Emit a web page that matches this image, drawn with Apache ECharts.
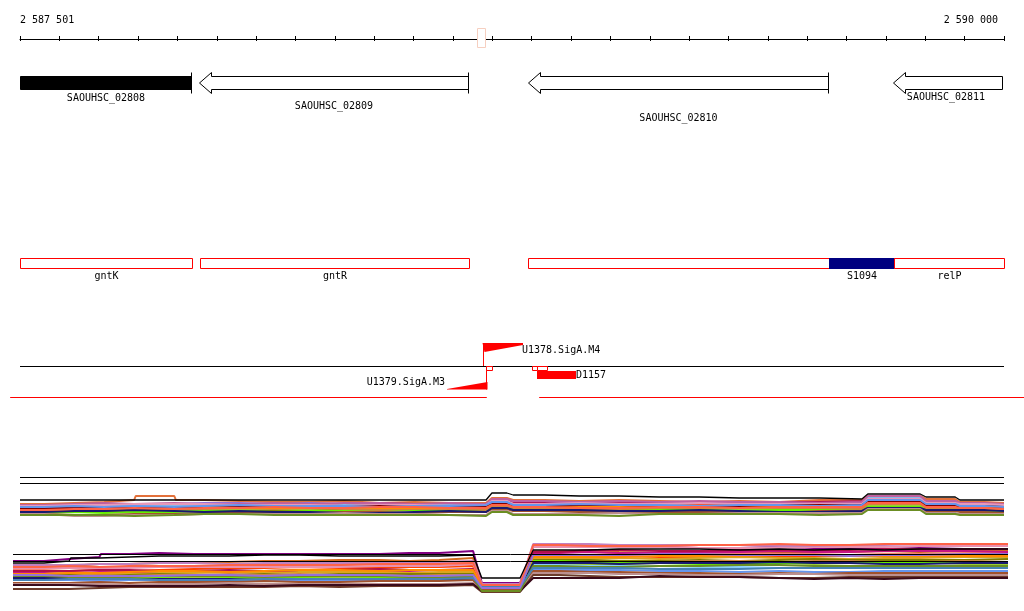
<!DOCTYPE html>
<html><head><meta charset="utf-8">
<script src="https://cdn.jsdelivr.net/npm/echarts@6/dist/echarts.min.js"></script>
<style>html,body{margin:0;padding:0;background:#fff}#c{width:1024px;height:611px}</style>
</head><body><div id="c"></div>
<script>
// ---------------- data ----------------
const VIEW_MIN = 2587500, VIEW_MAX = 2590000, TICK_STEP = 100;
const rulerLabels = ['2 587 501', '2 590 000'];
const cursorRange = [2588662, 2588682];

const geneNames  = ['SAOUHSC_02808', 'SAOUHSC_02809', 'SAOUHSC_02810', 'SAOUHSC_02811'];
const geneStart  = [2587100, 2587956, 2588791, 2589717];
const geneEnd    = [2587935, 2588638, 2589553, 2590600];
const geneStrand = ['-', '-', '-', '-'];
const geneSelected = [true, false, false, false];

const operonNames = ['gntK', 'gntR', '', 'S1094', 'relP'];
const operonStart = [2587300, 2587957, 2588791, 2589555, 2589721];
const operonEnd   = [2587936, 2588640, 2589555, 2589721, 2590300];
const operonKind  = ['operon', 'operon', 'operon', 'sRNA', 'operon'];

const motifNames = ['U1378.SigA.M4', 'U1379.SigA.M3'];
const motifPos   = [2588676, 2588685];
const motifEnd   = [2588777, 2588586];

const tssStart = [2588683, 2588801, 2588814];
const tssEnd   = [2588700, 2588814, 2588838];

const regionNames = ['D1157'];
const regionStart = [2588814];
const regionEnd   = [2588913];

const coverageStart = [2587475, 2588819];
const coverageEnd   = [2588686, 2590051];

// expression panel 1
const p1SegStart = [2587500,2587564,2587640,2587716,2587792,2587894,2587970,2588059,2588148,2588237,2588326,2588415,2588504,2588592,2588699,2588753,2588834,2588923,2589024,2589126,2589228,2589329,2589431,2589533,2589654,2589802,2589888,2589952];
const p1SegEnd   = [2587564,2587640,2587716,2587792,2587894,2587970,2588059,2588148,2588237,2588326,2588415,2588504,2588592,2588684,2588737,2588834,2588923,2589024,2589126,2589228,2589329,2589431,2589533,2589639,2589787,2589876,2589952,2590000];
const p1RefLevels = [42, 36];
const p1Values = [
  [20,20,20,20,20,20,20,20,20,20,20,20,20,20,27,25,24,24,23,23,22,22,22,21,26,23,20,20],
  [16,17,18,20,24,20,19,18,18,19,17,18,17,17,22,20,19,20,19,18,19,18,20,20,24,21,18,17],
  [15,14,16,15,16,17,17,16,17,16,16,15,16,15,20,18,18,17,16,17,17,18,17,17,22,19,16,15],
  [12,13,12,14,14,15,16,16,15,16,17,16,15,16,19,17,16,17,17,16,17,18,18,19,21,18,15,14],
  [13,12,14,13,15,15,14,15,16,14,15,14,14,13,18,16,15,16,15,15,16,15,16,15,20,17,14,14],
  [15,15,14,15,15,14,13,14,14,15,14,15,15,14,19,15,14,15,16,15,14,14,15,14,23,16,15,15],
  [11,12,13,12,12,13,14,13,14,13,13,12,13,13,17,14,15,14,14,15,15,16,15,16,19,15,13,12],
  [10,10,11,11,12,11,12,12,13,12,12,13,12,12,16,13,13,13,12,13,13,13,14,13,18,14,12,12],
  [8,8,9,8,9,10,10,9,10,10,11,10,11,11,14,12,11,10,11,11,12,11,12,12,16,12,11,10],
  [9,9,10,9,10,10,11,11,11,12,11,11,10,10,13,11,12,12,11,12,11,11,11,10,15,11,10,9],
  [7,8,7,8,8,9,9,8,9,9,9,10,9,9,12,10,10,9,10,10,9,10,10,11,13,10,9,8],
  [6,5,5,6,6,7,7,8,7,8,8,7,8,8,11,9,8,8,8,8,8,7,9,9,12,9,8,7],
  [9,10,10,11,11,11,12,11,12,11,10,11,11,10,14,12,11,11,12,12,13,12,12,11,16,12,11,10],
  [15,16,17,16,17,16,16,17,16,17,17,16,17,16,21,19,18,19,18,19,18,18,17,18,24,19,17,16],
  [8,9,9,10,9,8,9,8,8,7,7,8,9,8,12,10,10,9,9,10,9,8,8,9,12,10,10,9],
  [6,4,4,5,5,6,6,6,6,7,6,6,5,5,9,6,6,7,6,6,7,7,7,7,11,7,6,6],
  [5,5,5,4,5,6,6,5,5,5,5,5,5,4,8,5,5,4,6,6,6,6,5,6,10,6,5,5],
  [14,15,15,16,16,16,15,15,15,14,15,15,14,15,19,16,17,16,16,17,16,16,16,16,21,17,16,15],
  [11,11,12,12,13,13,12,12,12,13,12,12,12,12,16,14,14,13,13,14,14,14,13,14,17,15,13,11],
  [12,12,12,13,13,12,13,14,13,13,14,13,13,14,17,14,15,15,14,14,14,15,15,15,19,14,14,13],
  [13,14,13,14,13,14,15,14,14,14,13,14,14,15,18,15,16,15,15,14,15,15,14,15,20,16,14,13],
  [10,11,11,12,11,12,12,13,12,12,13,13,12,12,15,13,12,12,13,13,12,13,13,13,17,13,12,11]
];

// expression panel 2
const p2SegStart = [2587500,2587580,2587643,2587719,2587794,2587869,2587957,2588045,2588133,2588221,2588322,2588422,2588498,2588573,2588678,2588807,2588874,2588950,2589025,2589126,2589226,2589327,2589427,2589515,2589603,2589691,2589779,2589892];
const p2SegEnd   = [2587580,2587643,2587719,2587794,2587869,2587957,2588045,2588133,2588221,2588322,2588422,2588498,2588573,2588656,2588774,2588874,2588950,2589025,2589126,2589226,2589327,2589427,2589515,2589603,2589691,2589779,2589892,2590000];
const p2RefLevels = [47, 40];
const p2Values = [
  [41,43,45,48,49,48,48,48,48,48,48,49,49,51,19,55,56,56,55,54,54,55,54,53,53,54,53,53],
  [39,41,44,45,46,46,46,47,47,46,46,46,46,47,24,52,52,53,53,53,52,53,52,53,52,53,53,53],
  [37,36,38,38,39,40,40,41,41,42,42,41,42,44,17,50,51,50,49,50,49,49,50,50,51,50,51,51],
  [33,34,34,35,36,36,36,37,36,37,38,38,39,40,16,51,50,49,48,48,49,48,48,47,48,48,49,49],
  [30,31,32,31,32,33,34,34,35,34,34,35,35,36,15,47,46,46,45,45,46,45,46,46,46,47,46,46],
  [29,28,30,30,30,31,30,31,31,32,31,31,32,32,16,49,50,49,49,50,50,51,50,50,51,51,51,50],
  [28,29,28,28,29,29,30,29,30,30,30,29,30,30,14,44,43,44,43,44,45,44,44,43,44,44,45,45],
  [27,27,26,27,28,27,27,28,27,28,28,28,28,28,13,42,42,41,41,42,41,42,43,42,42,42,42,43],
  [26,26,27,26,27,27,28,27,28,27,27,26,27,27,14,39,40,40,40,41,41,40,41,41,40,40,41,40],
  [25,24,24,25,25,25,26,26,25,26,26,26,26,26,15,37,37,36,36,35,35,34,34,35,35,35,34,35],
  [25,25,25,24,24,24,25,24,25,25,24,25,25,26,13,39,38,38,39,39,39,39,38,39,40,40,38,38],
  [23,24,23,23,24,23,24,24,24,23,24,24,23,24,12,41,40,39,39,38,38,39,39,39,39,39,39,39],
  [24,24,23,22,23,23,23,22,23,23,22,23,23,23,13,39,39,38,39,39,39,40,39,39,38,38,39,39],
  [22,22,21,22,22,22,21,22,22,21,22,23,24,24,14,32,32,32,31,31,30,31,30,30,31,31,31,31],
  [19,19,20,19,20,20,20,21,20,20,21,21,21,22,12,31,30,30,29,29,28,29,28,29,29,29,29,29],
  [18,18,18,17,18,18,19,18,18,18,18,18,18,19,11,29,29,28,28,27,27,28,28,27,27,27,27,27],
  [13,13,14,15,15,15,15,15,16,15,16,16,16,17,10,27,26,25,25,25,25,24,24,25,25,25,25,25],
  [17,17,16,16,16,16,17,16,17,17,17,17,17,18,11,24,24,24,26,25,25,24,23,24,23,24,24,24],
  [31,31,32,32,31,31,32,31,32,32,33,32,32,33,17,50,52,52,51,51,52,52,52,52,53,53,53,53],
  [34,34,34,34,35,35,35,35,35,35,36,36,36,38,18,55,55,55,55,54,54,54,55,55,55,56,56,56],
  [37,37,38,38,39,39,38,39,39,39,39,39,40,41,18,58,58,57,57,57,57,56,56,57,57,58,58,58],
  [28,29,29,30,31,31,30,31,32,32,31,32,32,32,16,45,45,45,46,46,46,47,47,46,46,46,46,46],
  [26,25,25,25,26,26,26,25,26,26,26,25,25,25,11,36,35,35,36,36,37,37,36,36,36,36,36,36],
  [22,23,23,23,22,22,22,23,23,23,23,23,23,24,15,34,34,34,33,33,33,34,34,34,34,34,34,34],
  [35,36,35,36,36,36,37,37,37,37,38,38,38,39,17,57,56,56,56,57,57,58,57,57,58,58,58,58],
  [27,26,26,26,26,27,27,26,27,27,27,26,26,27,14,47,47,47,48,48,47,47,47,46,47,47,48,48]
];

// ---------------- styles / layout ----------------
const p1Colors = ['#000000','#e2703a','#9370db','#b0185a','#fa8072','#87b8e8','#ff4500','#daa520','#808000','#9acd32','#66ee00','#a0522d','#cd853f','#c060a0','#191970','#bc8f8f','#6b8e23','#e899b8','#ff8c00','#800000','#6495ed','#ff6347'];
const p2Colors = ['#800080','#000000','#d2691e','#fa8072','#ff4500','#c71585','#daa520','#808000','#cd853f','#87cefa','#9acd32','#66ee00','#191970','#6495ed','#a0522d','#bc8f8f','#6b3a2a','#3a0a1a','#b0104a','#e890b0','#c080c0','#ff8c00','#6b8e23','#4682b4','#ff6347','#9370db'];
const FONT = '10px "DejaVu Sans Mono", monospace';
const GENE = {bodyTop: 76.5, bodyBot: 89.5, headTop: 72.5, headBot: 93.5, head: 12, labelY: [98, 106, 118, 97]};

function X(api, bp) { return api.coord([bp, 0])[0]; }
function crisp(v) { return Math.round(v) + 0.5; }
function txt(text, x, y, align) {
  return {type: 'text', style: {text: text, x: x, y: y, font: FONT, fill: '#000', align: align || 'center', verticalAlign: 'middle'}};
}

function renderGene(params, api) {
  const i = params.dataIndex;
  const xL = crisp(X(api, VIEW_MIN)), xR = crisp(X(api, VIEW_MAX));
  const s = crisp(X(api, geneStart[i])), e = crisp(X(api, geneEnd[i]));
  const fwd = geneStrand[i] === '+';
  const tip = fwd ? e : s, base = fwd ? s : e;
  const dir = fwd ? -1 : 1;
  const tipIn = tip >= xL && tip <= xR;
  const baseIn = base >= xL && base <= xR;
  const baseC = Math.min(Math.max(base, xL), xR - 2);
  const tipC = Math.min(Math.max(tip, xL), xR);
  let pts;
  if (tipIn) {
    const hb = tip + dir * GENE.head;
    const mid = (GENE.headTop + GENE.headBot) / 2;
    pts = [[tip, mid], [hb, GENE.headTop], [hb, GENE.bodyTop], [baseC, GENE.bodyTop], [baseC, GENE.bodyBot], [hb, GENE.bodyBot], [hb, GENE.headBot]];
  } else {
    pts = [[tipC, GENE.bodyTop], [baseC, GENE.bodyTop], [baseC, GENE.bodyBot], [tipC, GENE.bodyBot]];
  }
  const children = [{type: 'polygon', shape: {points: pts}, style: {fill: geneSelected[i] ? '#000' : '#fff', stroke: '#000', lineWidth: 1}}];
  if (baseIn) children.push({type: 'line', shape: {x1: base, y1: GENE.headTop, x2: base, y2: GENE.headBot}, style: {stroke: '#000', lineWidth: 1}});
  children.push(txt(geneNames[i], (tipC + baseC) / 2 - (baseIn ? 0 : 2), GENE.labelY[i]));
  return {type: 'group', children: children};
}

function renderOperon(params, api) {
  const i = params.dataIndex;
  const xL = crisp(X(api, VIEW_MIN)), xR = crisp(X(api, VIEW_MAX));
  const a = Math.max(crisp(X(api, operonStart[i])), xL), b = Math.min(crisp(X(api, operonEnd[i])), xR);
  const children = [];
  if (operonKind[i] === 'sRNA') {
    children.push({type: 'rect', shape: {x: a - 0.5, y: 258, width: b - a + 1, height: 11}, style: {fill: '#000080'}});
  } else {
    children.push({type: 'rect', shape: {x: a, y: 258.5, width: b - a, height: 10}, style: {fill: '#fff', stroke: '#ff0000', lineWidth: 1}});
  }
  if (operonNames[i]) children.push(txt(operonNames[i], (a + b) / 2, 276));
  return {type: 'group', children: children};
}

function renderBaseline(params, api) {
  const xL = X(api, VIEW_MIN), xR = X(api, VIEW_MAX);
  return {type: 'line', shape: {x1: xL, y1: 366.5, x2: xR, y2: 366.5}, style: {stroke: '#000', lineWidth: 1}};
}

function renderCoverage(params, api) {
  const i = params.dataIndex;
  return {type: 'line', shape: {x1: X(api, coverageStart[i]), y1: 397.5, x2: X(api, coverageEnd[i]), y2: 397.5}, style: {stroke: '#ff0000', lineWidth: 1}};
}

function renderMotif(params, api) {
  const i = params.dataIndex;
  const p = crisp(X(api, motifPos[i])), q = Math.round(X(api, motifEnd[i]));
  const children = [];
  if (q > p) {
    children.push({type: 'polygon', shape: {points: [[p - 1, 343], [q, 343], [q, 345], [p + 1, 352]]}, style: {fill: '#ff0000'}});
    children.push({type: 'line', shape: {x1: p, y1: 343, x2: p, y2: 366}, style: {stroke: '#ff0000', lineWidth: 1}});
    children.push(txt(motifNames[i], q - 1, 350, 'left'));
  } else {
    children.push({type: 'polygon', shape: {points: [[q, 389.5], [p + 1, 389.5], [p + 1, 382], [q, 389]]}, style: {fill: '#ff0000'}});
    children.push({type: 'line', shape: {x1: p, y1: 369, x2: p, y2: 389.5}, style: {stroke: '#ff0000', lineWidth: 1}});
    children.push(txt(motifNames[i], q - 2, 382, 'right'));
  }
  return {type: 'group', children: children};
}

function renderTss(params, api) {
  const i = params.dataIndex;
  const a = crisp(X(api, tssStart[i])), b = crisp(X(api, tssEnd[i]));
  return {type: 'rect', shape: {x: a, y: 366.5, width: b - a, height: 4}, style: {fill: '#fff', stroke: '#ff0000', lineWidth: 1}};
}

function renderRegion(params, api) {
  const i = params.dataIndex;
  const a = Math.round(X(api, regionStart[i])), b = Math.round(X(api, regionEnd[i]));
  return {type: 'group', children: [
    {type: 'rect', shape: {x: a, y: 371, width: b - a, height: 8}, style: {fill: '#ff0000'}},
    txt(regionNames[i], b, 375, 'left')
  ]};
}

function renderCursor(params, api) {
  const a = crisp(X(api, cursorRange[0])), b = crisp(X(api, cursorRange[1]));
  return {type: 'rect', shape: {x: a, y: 28.5, width: b - a, height: 19}, style: {fill: '#fff', stroke: '#f6cfc0', lineWidth: 1}};
}

// crisp 1px horizontal reference line for expression panels
function renderRef(levels) {
  return function (params, api) {
    const v = levels[params.dataIndex];
    const a = api.coord([VIEW_MIN, v]), b = api.coord([VIEW_MAX, v]);
    const y = crisp(a[1] - 1);
    return {type: 'line', shape: {x1: a[0], y1: y, x2: b[0], y2: y}, style: {stroke: '#000', lineWidth: 1}};
  };
}

function stepData(segS, segE, vals) {
  const out = [];
  for (let k = 0; k < vals.length; k++) {
    const a = segS[k] + (k > 0 && segS[k] === segE[k - 1] ? 2 : 0);
    const b = segE[k] - (k < vals.length - 1 && segE[k] === segS[k + 1] ? 2 : 0);
    out.push([a, vals[k]], [b, vals[k]]);
  }
  return out;
}

function custom(name, n, render, z, xi, yi) {
  const data = [];
  for (let i = 0; i < n; i++) data.push([VIEW_MIN, VIEW_MAX]);
  return {type: 'custom', name: name, xAxisIndex: xi === undefined ? 2 : xi, yAxisIndex: yi === undefined ? 1 : yi,
    renderItem: render, data: data, encode: {x: [0, 1]}, silent: true, clip: false, z: z || 2};
}

const series = [
  custom('cursor', 1, renderCursor, 5),
  custom('genes', geneNames.length, renderGene),
  custom('operons', operonNames.length, renderOperon),
  custom('baseline', 1, renderBaseline),
  custom('coverage', coverageStart.length, renderCoverage),
  custom('motifs', motifNames.length, renderMotif),
  custom('regions', regionNames.length, renderRegion),
  custom('tss', tssStart.length, renderTss, 3),
  custom('p1ref', p1RefLevels.length, renderRef(p1RefLevels), 4, 3, 2),
  custom('p2ref', p2RefLevels.length, renderRef(p2RefLevels), 4, 4, 3)
];

function addLines(values, colors, segS, segE, xi, yi) {
  values.forEach(function (vals, j) {
    const c = colors[j % colors.length];
    const isBlack = c === '#000000';
    series.push({type: 'line', xAxisIndex: xi, yAxisIndex: yi, data: stepData(segS, segE, vals), symbol: 'none',
      lineStyle: {color: c, width: isBlack ? 1.3 : 2}, silent: true, z: isBlack ? 3 : 2});
  });
}
addLines(p1Values, p1Colors, p1SegStart, p1SegEnd, 3, 2);
addLines(p2Values, p2Colors, p2SegStart, p2SegEnd, 4, 3);

const hiddenX = function (g) { return {gridIndex: g, type: 'value', min: VIEW_MIN, max: VIEW_MAX, show: false}; };

const option = {
  animation: false,
  backgroundColor: '#fff',
  grid: [
    {left: 20, width: 984, top: 38, height: 1},
    {left: 20, width: 984, top: 0, height: 611},
    {left: 20, width: 984, top: 470, height: 50},
    {left: 13, width: 995, top: 540, height: 62}
  ],
  xAxis: [
    {gridIndex: 0, type: 'value', position: 'top', min: VIEW_MIN, max: VIEW_MAX, interval: TICK_STEP,
      axisLine: {show: true, lineStyle: {color: '#000', width: 1}},
      axisTick: {show: true, length: 3, lineStyle: {color: '#000', width: 1}},
      splitLine: {show: false},
      axisLabel: {show: true, interval: 0, margin: 13, color: '#000', fontFamily: '"DejaVu Sans Mono", monospace', fontSize: 10,
        showMinLabel: true, showMaxLabel: true, alignMinLabel: 'left', alignMaxLabel: 'right',
        formatter: function (v) { return v === VIEW_MIN ? rulerLabels[0] : (v === VIEW_MAX ? rulerLabels[1] + ' ' : ''); }}},
    {gridIndex: 0, type: 'value', position: 'top', min: VIEW_MIN, max: VIEW_MAX, interval: TICK_STEP,
      axisLine: {show: false},
      axisTick: {show: true, inside: true, length: 3, lineStyle: {color: '#000', width: 1}},
      splitLine: {show: false}, axisLabel: {show: false}},
    hiddenX(1), hiddenX(2), hiddenX(3)
  ],
  yAxis: [
    {gridIndex: 0, type: 'value', min: 0, max: 1, show: false},
    {gridIndex: 1, type: 'value', min: 0, max: 611, inverse: true, show: false},
    {gridIndex: 2, type: 'value', min: 0, max: 50, show: false},
    {gridIndex: 3, type: 'value', min: 0, max: 62, show: false}
  ],
  series: series
};

const chart = echarts.init(document.getElementById('c'));
chart.setOption(option);
</script>
</body></html>
